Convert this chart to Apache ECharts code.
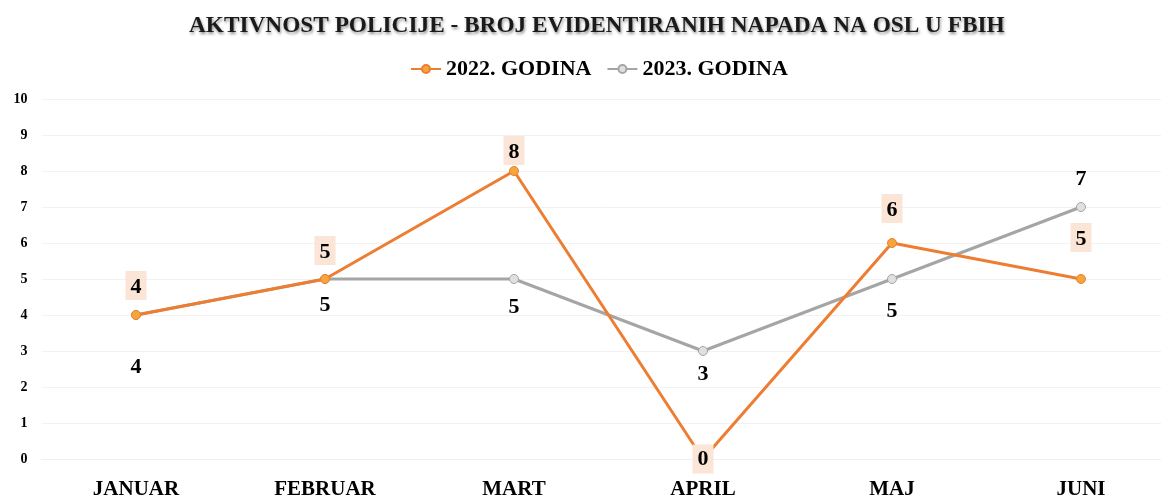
<!DOCTYPE html>
<html>
<head>
<meta charset="utf-8">
<script src="https://cdn.jsdelivr.net/npm/echarts@6/dist/echarts.min.js"></script>
<style>
  html, body { margin: 0; padding: 0; background: #fff; }
  #main { width: 1161px; height: 496px; }
</style>
</head>
<body>
<div id="main"></div>
<script>
var months = ['JANUAR', 'FEBRUAR', 'MART', 'APRIL', 'MAJ', 'JUNI'];
var data2022 = [4, 5, 8, 0, 6, 5];
var data2023 = [4, 5, 5, 3, 5, 7];
var seriesNames = ['2022. GODINA', '2023. GODINA'];

var serif = '"Liberation Serif", "DejaVu Serif", serif';
var myChart = echarts.init(document.getElementById('main'));

// label placement per point (like the Excel original)
var pos2022 = ['top', 'top', 'top', 'inside', 'top', 'top'];
var dist2022 = [10, 9, 1, 0, 15, 22];
var pos2023 = ['bottom', 'bottom', 'bottom', 'bottom', 'bottom', 'top'];
var dist2023 = [36, 10, 12, 7, 16, 12];

function buildPoints(values, pos, dist) {
  return values.map(function(v, i) {
    return { value: v, label: { position: pos[i], distance: dist[i] } };
  });
}

var labelBase = {
  show: true,
  fontFamily: serif,
  fontWeight: 'bold',
  fontSize: 22,
  color: '#000'
};

var option = {
  animation: false,
  title: {
    text: 'AKTIVNOST POLICIJE - BROJ EVIDENTIRANIH NAPADA NA OSL U FBIH',
    left: 184,
    top: 9,
    textStyle: {
      fontFamily: serif,
      fontWeight: 'bold',
      fontSize: 23.3,
      color: '#1a1a1a',
      textShadowColor: 'rgba(0,0,0,0.45)',
      textShadowBlur: 3,
      textShadowOffsetX: 1,
      textShadowOffsetY: 2
    }
  },
  legend: {
    top: 53,
    left: 405,
    itemWidth: 30,
    itemHeight: 10,
    itemGap: 15,
    data: seriesNames,
    textStyle: {
      fontFamily: serif,
      fontWeight: 'bold',
      fontSize: 22,
      color: '#000'
    }
  },
  grid: {
    left: 41.5,
    width: 1134,
    top: 99,
    bottom: 37,
    outerBoundsMode: 'none',
    containLabel: false
  },
  xAxis: {
    type: 'category',
    data: months,
    axisLine: { show: true, lineStyle: { color: '#f0f0f0' } },
    axisTick: { show: false },
    axisLabel: {
      fontFamily: serif,
      fontWeight: 'bold',
      fontSize: 21,
      color: '#000',
      margin: 20
    }
  },
  yAxis: {
    type: 'value',
    min: 0,
    max: 10,
    interval: 1,
    axisLine: { show: false },
    axisTick: { show: false },
    splitLine: { lineStyle: { color: '#f2f2f2' } },
    axisLabel: {
      fontFamily: serif,
      fontWeight: 'bold',
      fontSize: 14,
      color: '#000',
      margin: 14
    }
  },
  series: [{
    name: seriesNames[0],
    type: 'line',
    data: buildPoints(data2022, pos2022, dist2022),
    symbol: 'circle',
    symbolSize: 9,
    lineStyle: { color: '#ED7D31', width: 3 },
    itemStyle: { color: '#F4A63B', borderColor: '#ED7D31', borderWidth: 1 },
    label: Object.assign({}, labelBase, {
      backgroundColor: '#FBE5D6',
      padding: [5, 5, 2, 5]
    }),
    z: 3
  }, {
    name: seriesNames[1],
    type: 'line',
    data: buildPoints(data2023, pos2023, dist2023),
    symbol: 'circle',
    symbolSize: 9,
    lineStyle: { color: '#A5A5A5', width: 3 },
    itemStyle: { color: '#E0E0E0', borderColor: '#A5A5A5', borderWidth: 1 },
    label: labelBase,
    z: 2
  }]
};

myChart.setOption(option);
</script>
</body>
</html>
